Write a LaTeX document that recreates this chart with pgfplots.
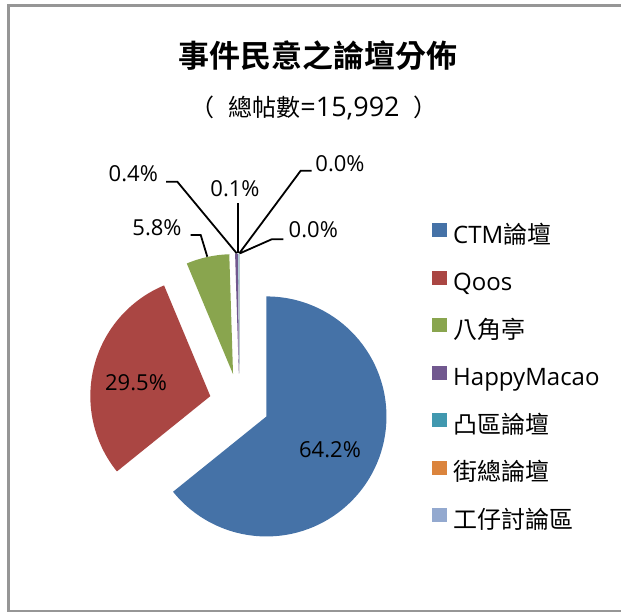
\documentclass[border=0pt]{standalone}
\usepackage{fontspec}
\setmainfont{Open Sans}
\newfontfamily\cjk{Noto Sans CJK TC}[BoldFont={Noto Sans CJK TC Bold}]
\usepackage{pgfplots}
\pgfplotsset{compat=1.18}
\usetikzlibrary{calc}
\definecolor{cA}{HTML}{4572A7}
\definecolor{cB}{HTML}{AA4643}
\definecolor{cC}{HTML}{89A54E}
\definecolor{cD}{HTML}{71588F}
\definecolor{cE}{HTML}{4198AF}
\definecolor{cF}{HTML}{DB843D}
\definecolor{cG}{HTML}{93A9CF}
\definecolor{frame}{HTML}{969696}
\newcommand\lab[1]{\fontsize{22}{22}\selectfont #1}
\begin{document}
\begin{tikzpicture}
\begin{axis}[
  at={(0,0)}, anchor=south west,
  width=621pt, height=613pt, scale only axis,
  xmin=0, xmax=621, ymin=0, ymax=613,
  hide axis, clip=false,
]
% frame (right edge falls outside the picture)
\draw[frame,line width=2.5pt] (axis cs:621,607.5) -- (axis cs:8.5,607.5)
  -- (axis cs:8.5,2) -- (axis cs:621,2);

% slices: share in percent / colour, clockwise from 12 o'clock, all exploded
\pgfplotsextra{
  \xdef\start{90}
  \foreach \v/\c in {64.2/cA,29.5/cB,5.8/cC,0.4/cD,0.1/cE,0.0/cF,0.0/cG}{
    \pgfmathsetmacro\e{\start-3.6*\v}
    \pgfmathsetmacro\m{(\start+\e)/2}
    \fill[\c] ($(axis cs:239.4,209.5)+(\m:30pt)$) -- ++(\start:120pt)
      arc[start angle=\start,end angle=\e,radius=120pt] -- cycle;
    \xdef\start{\e}
  }
}

% title
\node[font=\cjk\bfseries\fontsize{31}{31}\selectfont] at (axis cs:317.5,557) {事件民意之論壇分佈};
\node[anchor=base] at (axis cs:314,496) {\cjk\fontsize{24}{24}\selectfont （\hspace{14pt}總帖數\fontsize{27}{27}\selectfont\rmfamily=15,992\hspace{14pt}\cjk\fontsize{24}{24}\selectfont ）};

% data labels
\node at (axis cs:330,163) {\lab{64.2\%}};
\node at (axis cs:136,230) {\lab{29.5\%}};
\node at (axis cs:157,385) {\lab{5.8\%}};
\node at (axis cs:133.3,439.7) {\lab{0.4\%}};
\node at (axis cs:235,424.7) {\lab{0.1\%}};
\node at (axis cs:340,449.7) {\lab{0.0\%}};
\node at (axis cs:313.3,383) {\lab{0.0\%}};
\draw[line width=1.8pt] (axis cs:190.7,378) -- (axis cs:200.7,378) -- (axis cs:207.3,356.3);
\draw[line width=1.8pt] (axis cs:166,431.3) -- (axis cs:177.3,431.3) -- (axis cs:236.7,359.7);
\draw[line width=1.8pt] (axis cs:238.3,409.7) -- (axis cs:238.3,359.7);
\draw[line width=1.8pt] (axis cs:311.7,442.3) -- (axis cs:300.7,442.3) -- (axis cs:239.3,359.7);
\draw[line width=1.8pt] (axis cs:283.3,373.7) -- (axis cs:271.7,373.7) -- (axis cs:240,359.7);

% legend
\pgfplotsextra{
  \foreach \y/\c/\t in {382.5/cA/{CTM{\cjk 論壇}},335/cB/{Qoos},287.5/cC/{\cjk 八角亭},
      240/cD/{HappyMacao},192.5/cE/{\cjk 凸區論壇},145/cF/{\cjk 街總論壇},97.5/cG/{\cjk 工仔討論區}}{
    \fill[\c] ($(axis cs:432,\y)+(0,-7pt)$) rectangle ++(15pt,14pt);
    \node[anchor=base west,inner sep=0pt] at ($(axis cs:453,\y)+(0,-12.8pt)$)
      {\fontsize{24}{24}\selectfont\t};
  }
}
\end{axis}
\pgfresetboundingbox
\path[use as bounding box] (0,0) rectangle (621pt,613pt);
\end{tikzpicture}
\end{document}
